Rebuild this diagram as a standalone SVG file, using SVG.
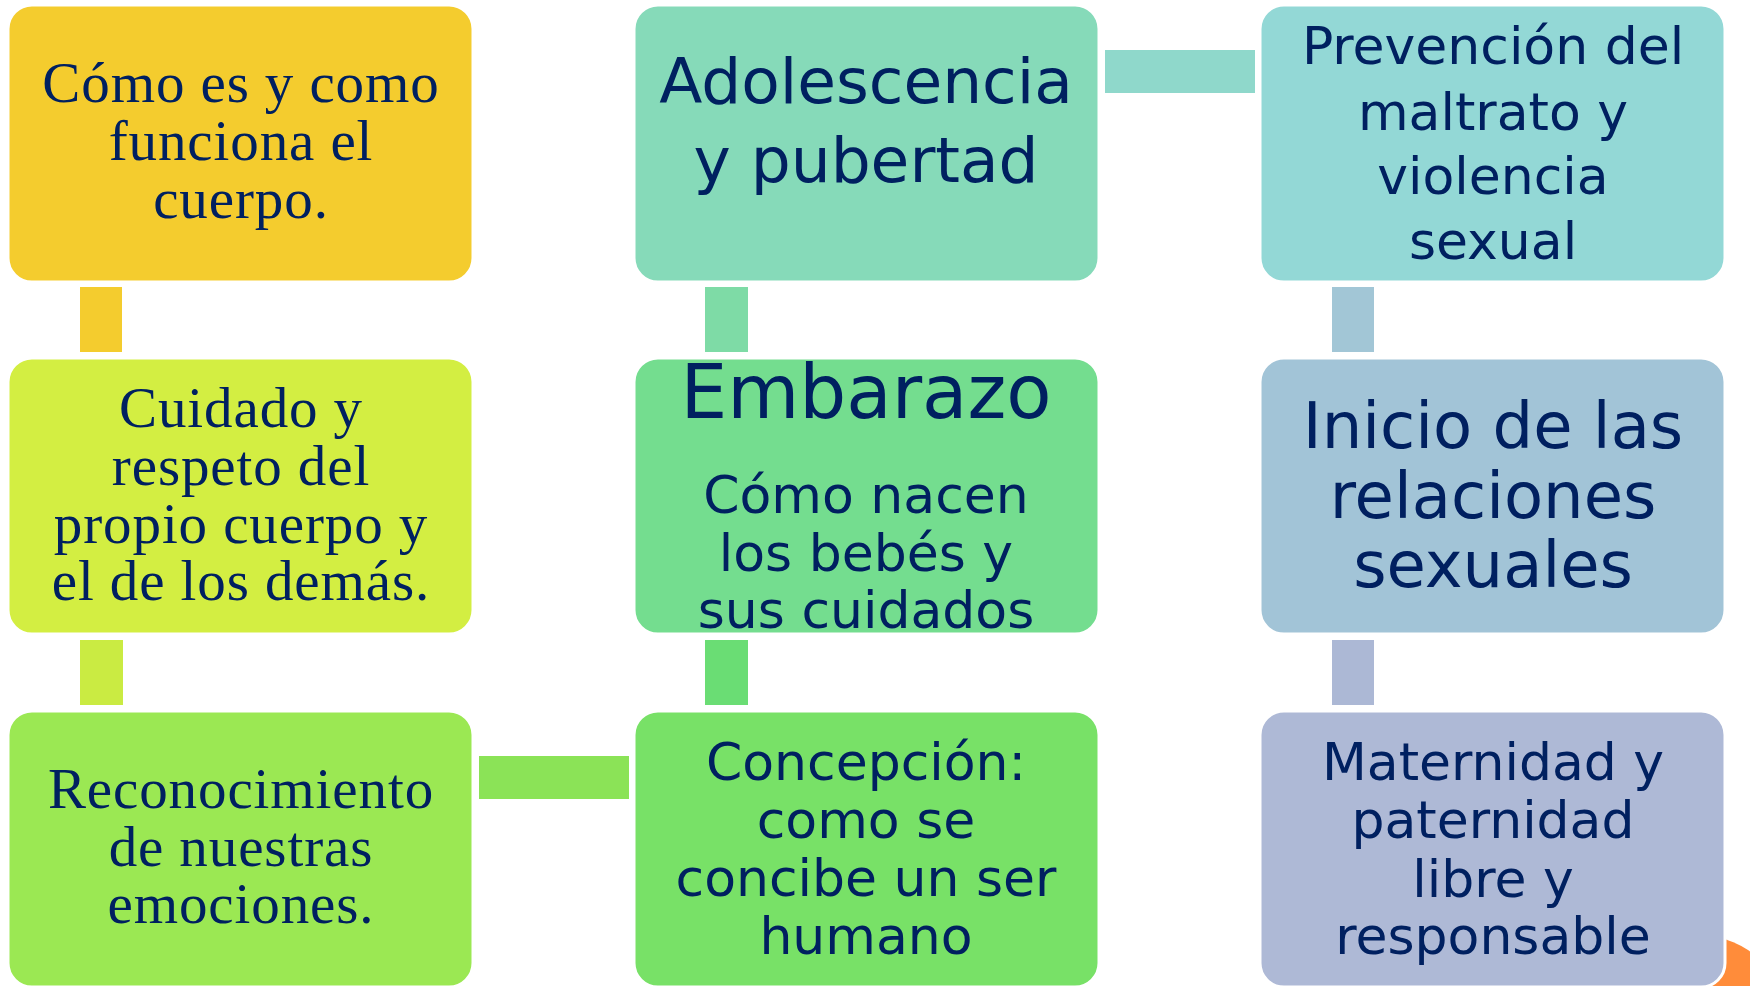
<svg xmlns="http://www.w3.org/2000/svg" width="1750" height="986" viewBox="0 0 1750 986">
<style>
.box{stroke:#FFFFFF;stroke-width:3}
.serif{font-family:"Liberation Serif","Times New Roman",serif;font-size:57px;letter-spacing:0.9px;fill:#002060;text-anchor:middle}
.sans{font-family:"DejaVu Sans",Verdana,sans-serif;fill:#002060;text-anchor:middle}
.s52{font-size:52px}
.s63{font-size:63px}
.s64{font-size:64px}
.s74{font-size:74px}
</style>
<rect width="1750" height="986" fill="#FFFFFF"/>
<circle cx="1702" cy="1018" r="82" fill="#FF8C3A"/>
<g id="connectors">
<rect x="80" y="287" width="42" height="65" fill="#F4CC2E"/>
<rect x="80" y="640" width="43" height="65" fill="#CAEB42"/>
<rect x="479" y="756" width="150" height="43" fill="#8BE357"/>
<rect x="705" y="287" width="43" height="65" fill="#7EDBA6"/>
<rect x="705" y="640" width="43" height="65" fill="#6ADD74"/>
<rect x="1105" y="50" width="150" height="43" fill="#8FD8CB"/>
<rect x="1332" y="287" width="42" height="65" fill="#A2C6D6"/>
<rect x="1332" y="640" width="42" height="65" fill="#ACB8D5"/>
</g>
<g id="node-cuerpo">
<rect class="box" x="8" y="5" width="465" height="277" rx="24" fill="#F4CC2E"/>
<text class="serif" x="241" y="102">Cómo es y como</text>
<text class="serif" x="241" y="160">funciona el</text>
<text class="serif" x="241" y="218">cuerpo.</text>
</g>
<g id="node-cuidado">
<rect class="box" x="8" y="358" width="465" height="276" rx="24" fill="#D3EE42"/>
<text class="serif" x="241" y="427">Cuidado y</text>
<text class="serif" x="241" y="485">respeto del</text>
<text class="serif" x="241" y="543">propio cuerpo y</text>
<text class="serif" x="241" y="600">el de los demás.</text>
</g>
<g id="node-emociones">
<rect class="box" x="8" y="711" width="465" height="276" rx="24" fill="#9BE853"/>
<text class="serif" x="241" y="808">Reconocimiento</text>
<text class="serif" x="241" y="866">de nuestras</text>
<text class="serif" x="241" y="923">emociones.</text>
</g>
<g id="node-adolescencia">
<rect class="box" x="634" y="5" width="465" height="277" rx="24" fill="#86DAB9"/>
<text class="sans s63" x="866" y="103">Adolescencia</text>
<text class="sans s63" x="866" y="182">y pubertad</text>
</g>
<g id="node-embarazo">
<rect class="box" x="634" y="358" width="465" height="276" rx="24" fill="#74DD8F"/>
<text class="sans s74" x="866" y="418">Embarazo</text>
<text class="sans s52" x="866" y="513">Cómo nacen</text>
<text class="sans s52" x="866" y="571">los bebés y</text>
<text class="sans s52" x="866" y="628">sus cuidados</text>
</g>
<g id="node-concepcion">
<rect class="box" x="634" y="711" width="465" height="276" rx="24" fill="#78E167"/>
<text class="sans s52" x="866" y="780">Concepción:</text>
<text class="sans s52" x="866" y="838">como se</text>
<text class="sans s52" x="866" y="896">concibe un ser</text>
<text class="sans s52" x="866" y="954">humano</text>
</g>
<g id="node-prevencion">
<rect class="box" x="1260" y="5" width="465" height="277" rx="24" fill="#93D8D6"/>
<text class="sans s52" x="1493" y="64">Prevención del</text>
<text class="sans s52" x="1493" y="130">maltrato y</text>
<text class="sans s52" x="1493" y="194">violencia</text>
<text class="sans s52" x="1493" y="259">sexual</text>
</g>
<g id="node-inicio">
<rect class="box" x="1260" y="358" width="465" height="276" rx="24" fill="#A2C4D7"/>
<text class="sans s64" x="1493" y="448">Inicio de las</text>
<text class="sans s64" x="1493" y="518">relaciones</text>
<text class="sans s64" x="1493" y="587">sexuales</text>
</g>
<g id="node-maternidad">
<rect class="box" x="1260" y="711" width="465" height="276" rx="24" fill="#AEB9D6"/>
<text class="sans s52" x="1493" y="780">Maternidad y</text>
<text class="sans s52" x="1493" y="838">paternidad</text>
<text class="sans s52" x="1493" y="897">libre y</text>
<text class="sans s52" x="1493" y="954">responsable</text>
</g>
</svg>
